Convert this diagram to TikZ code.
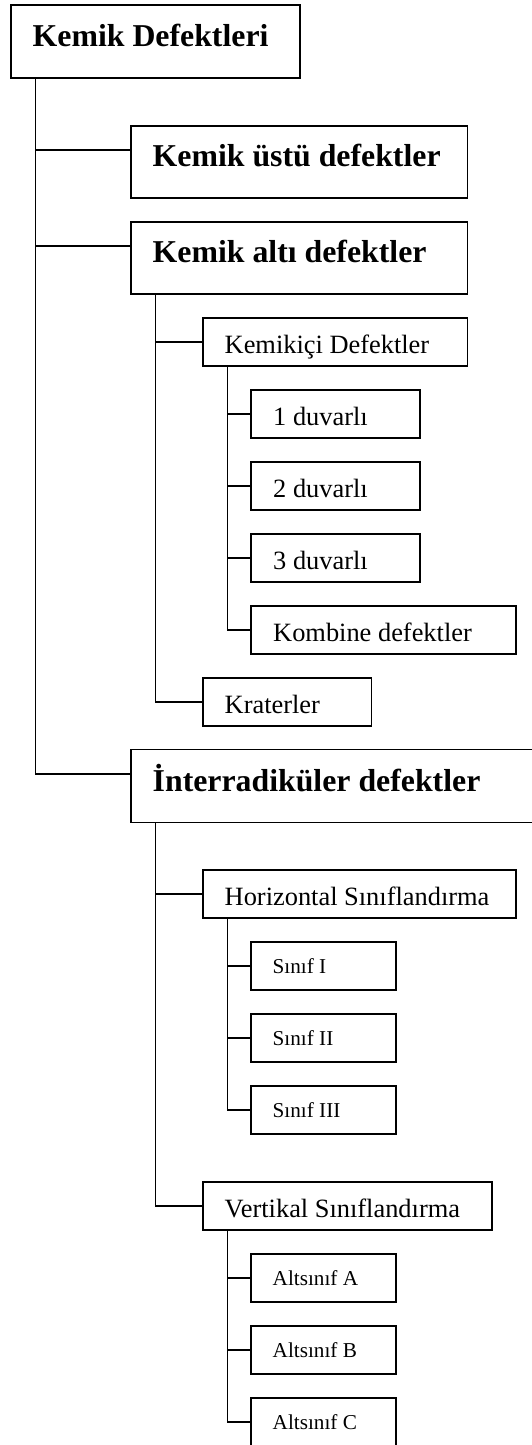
\documentclass[tikz,border=0pt]{standalone}
\usepackage{fontspec}
\setmainfont{Liberation Serif}
\begin{document}
\begin{tikzpicture}[x=1pt,y=-1pt,
  box/.style={draw,line width=1.3pt,anchor=north west,inner sep=0pt,outer sep=0pt},
  bt/.style={anchor=base west,inner sep=0pt,font=\fontsize{31.8}{36}\selectfont\bfseries},
  rt/.style={anchor=base west,inner sep=0pt,font=\fontsize{26.4}{30}\selectfont},
  st/.style={anchor=base west,inner sep=0pt,font=\fontsize{21.2}{25}\selectfont},
  ln/.style={line width=1.3pt}]
\useasboundingbox (0,0) rectangle (532,1445);
% boxes
\node[box,minimum width=289pt,minimum height=73pt] (root) at (11,5) {};
\node[box,minimum width=336.6pt,minimum height=72pt] (ustu) at (131,126) {};
\node[box,minimum width=336.6pt,minimum height=72pt] (alt) at (131,222) {};
\node[box,minimum width=264.6pt,minimum height=48pt] (ici) at (203,318) {};
\node[box,minimum width=169pt,minimum height=48pt] (d1) at (251,390) {};
\node[box,minimum width=169pt,minimum height=48pt] (d2) at (251,462) {};
\node[box,minimum width=169pt,minimum height=48pt] (d3) at (251,534) {};
\node[box,minimum width=265pt,minimum height=48pt] (komb) at (251,606) {};
\node[box,minimum width=168.6pt,minimum height=48pt] (krat) at (203,678) {};
\node[box,minimum width=410pt,minimum height=73pt] (inter) at (131,749.5) {};
\node[box,minimum width=313pt,minimum height=48pt] (hor) at (203,870) {};
\node[box,minimum width=145pt,minimum height=48pt] (s1) at (251,942) {};
\node[box,minimum width=145pt,minimum height=48pt] (s2) at (251,1014) {};
\node[box,minimum width=145pt,minimum height=48pt] (s3) at (251,1086) {};
\node[box,minimum width=289pt,minimum height=48pt] (ver) at (203,1182) {};
\node[box,minimum width=145pt,minimum height=48pt] (aa) at (251,1254) {};
\node[box,minimum width=145pt,minimum height=48pt] (ab) at (251,1326) {};
\node[box,minimum width=145pt,minimum height=56pt] (ac) at (251,1398) {};
% texts
\node[bt] (troot) at (32.5,46.5) {Kemik Defektleri};
\node[bt] (tustu) at (152.5,166.7) {Kemik üstü defektler};
\node[bt] (talt) at (152.5,262.5) {Kemik altı defektler};
\node[rt] (tici) at (224.5,353) {Kemikiçi Defektler};
\node[rt] (td1) at (273,425) {1 duvarlı};
\node[rt] (td2) at (273,497) {2 duvarlı};
\node[rt] (td3) at (273,569) {3 duvarlı};
\node[rt] (tkomb) at (273,641) {Kombine defektler};
\node[rt] (tkrat) at (224.5,713) {Kraterler};
\node[bt] (tinter) at (152.5,791.5) {İnterradiküler defektler};
\node[rt] (thor) at (224.5,905) {Horizontal Sınıflandırma};
\node[st] (ts1) at (272.5,973.5) {Sınıf I};
\node[st] (ts2) at (272.5,1045.5) {Sınıf II};
\node[st] (ts3) at (272.5,1117.5) {Sınıf III};
\node[rt] (tver) at (224.5,1217) {Vertikal Sınıflandırma};
\node[st] (taa) at (272.5,1285.5) {Altsınıf A};
\node[st] (tab) at (272.5,1357.5) {Altsınıf B};
\node[st] (tac) at (272.5,1429.5) {Altsınıf C};
% trunk coordinates
\coordinate (r0) at ([xshift=24.4pt]root.south west);
\coordinate (r1) at ([xshift=24.4pt]alt.south west);
\coordinate (r2) at ([xshift=24.4pt]ici.south west);
\coordinate (r3) at ([xshift=24.4pt]inter.south west);
\coordinate (r4) at ([xshift=24.4pt]hor.south west);
\coordinate (r5) at ([xshift=24.4pt]ver.south west);
\coordinate (justu) at ([yshift=-24pt]ustu.north west);
\coordinate (jalt) at ([yshift=-24pt]alt.north west);
\coordinate (jinter) at ([yshift=-24.5pt]inter.north west);
% connectors
\draw[ln] (r0) |- (jinter);
\draw[ln] (r0 |- justu) -- (justu);
\draw[ln] (r0 |- jalt) -- (jalt);
\draw[ln] (r1) |- (krat.west);
\draw[ln] (r1 |- ici.west) -- (ici.west);
\draw[ln] (r2) |- (komb.west);
\draw[ln] (r2 |- d1.west) -- (d1.west);
\draw[ln] (r2 |- d2.west) -- (d2.west);
\draw[ln] (r2 |- d3.west) -- (d3.west);
\draw[ln] (r3) |- (ver.west);
\draw[ln] (r3 |- hor.west) -- (hor.west);
\draw[ln] (r4) |- (s3.west);
\draw[ln] (r4 |- s1.west) -- (s1.west);
\draw[ln] (r4 |- s2.west) -- (s2.west);
\coordinate (jac) at ([yshift=-24pt]ac.north west);
\draw[ln] (r5) |- (jac);
\draw[ln] (r5 |- aa.west) -- (aa.west);
\draw[ln] (r5 |- ab.west) -- (ab.west);
\end{tikzpicture}
\end{document}
